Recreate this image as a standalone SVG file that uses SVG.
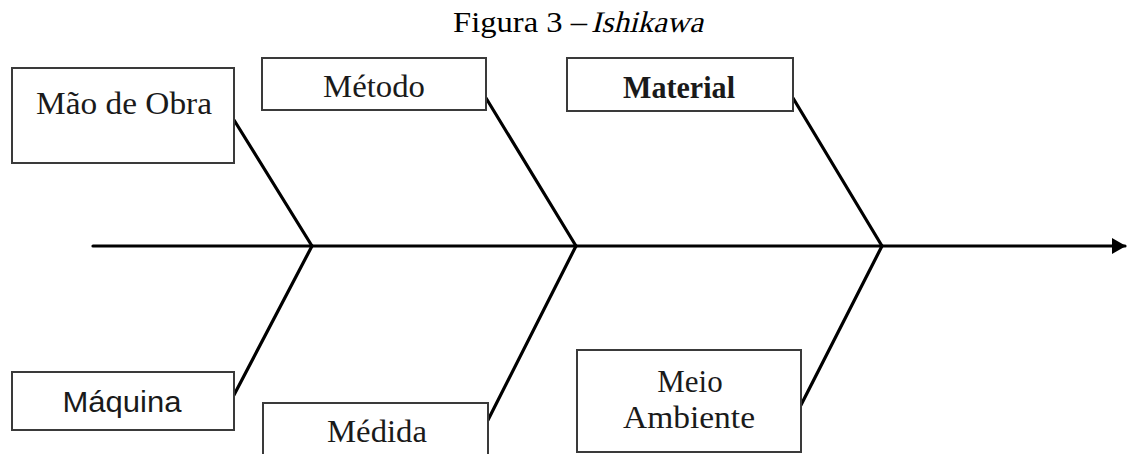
<svg xmlns="http://www.w3.org/2000/svg" width="1138" height="454" viewBox="0 0 1138 454">
<style>
.box{fill:#fff;stroke:#3a3a3a;stroke-width:2}
.t{font-family:"Liberation Serif","Times New Roman",serif;font-size:31px;fill:#1a1a1a}
.title{font-family:"Liberation Serif","Times New Roman",serif;font-size:30px;fill:#000}
.s{font-family:"Liberation Sans",Arial,sans-serif;font-size:29px;fill:#1a1a1a}
.bone{stroke:#000;stroke-width:3.2;fill:none;stroke-linecap:round}
</style>
<defs>
<marker id="ah" markerWidth="14" markerHeight="18" refX="13" refY="9" orient="auto" markerUnits="userSpaceOnUse">
<path d="M0,1 L14,9 L0,17 Z" fill="#000"/>
</marker>
</defs>
<rect width="1138" height="454" fill="#fff"/>
<g id="title">
<text class="title" x="453" y="32" textLength="134" lengthAdjust="spacingAndGlyphs">Figura 3 –</text>
<text class="title" transform="translate(591,32) skewX(-14)" x="0" y="0" textLength="112" lengthAdjust="spacingAndGlyphs">Ishikawa</text>
</g>
<g id="connectors">
<line class="bone" x1="93" y1="246" x2="1125" y2="246" marker-end="url(#ah)"/>
<line class="bone" x1="234" y1="120" x2="312" y2="246"/>
<line class="bone" x1="486" y1="98" x2="576" y2="246"/>
<line class="bone" x1="793" y1="98" x2="882" y2="246"/>
<line class="bone" x1="234" y1="395" x2="312" y2="246"/>
<line class="bone" x1="488" y1="420" x2="576" y2="246"/>
<line class="bone" x1="801" y1="405" x2="882" y2="246"/>
</g>
<g id="mao-de-obra">
<rect class="box" x="12" y="68" width="222" height="95"/>
<text class="t" x="124" y="114" text-anchor="middle" textLength="176" lengthAdjust="spacingAndGlyphs">Mão de Obra</text>
</g>
<g id="metodo">
<rect class="box" x="262" y="58" width="224" height="52"/>
<text class="t" x="374" y="97" text-anchor="middle" textLength="102" lengthAdjust="spacingAndGlyphs">Método</text>
</g>
<g id="material">
<rect class="box" x="567" y="58" width="226" height="53"/>
<text class="t" x="679" y="98" text-anchor="middle" font-weight="bold" textLength="112" lengthAdjust="spacingAndGlyphs">Material</text>
</g>
<g id="maquina">
<rect class="box" x="12" y="372" width="222" height="58"/>
<text class="s" x="122" y="412" text-anchor="middle" textLength="119" lengthAdjust="spacingAndGlyphs">Máquina</text>
</g>
<g id="medida">
<rect class="box" x="263" y="403" width="225" height="60"/>
<text class="t" x="377" y="442" text-anchor="middle" textLength="100" lengthAdjust="spacingAndGlyphs">Médida</text>
</g>
<g id="meio-ambiente">
<rect class="box" x="577" y="350" width="224" height="102"/>
<text class="t" x="690" y="392" text-anchor="middle">Meio</text>
<text class="t" x="689" y="428" text-anchor="middle" textLength="132" lengthAdjust="spacingAndGlyphs">Ambiente</text>
</g>
</svg>
